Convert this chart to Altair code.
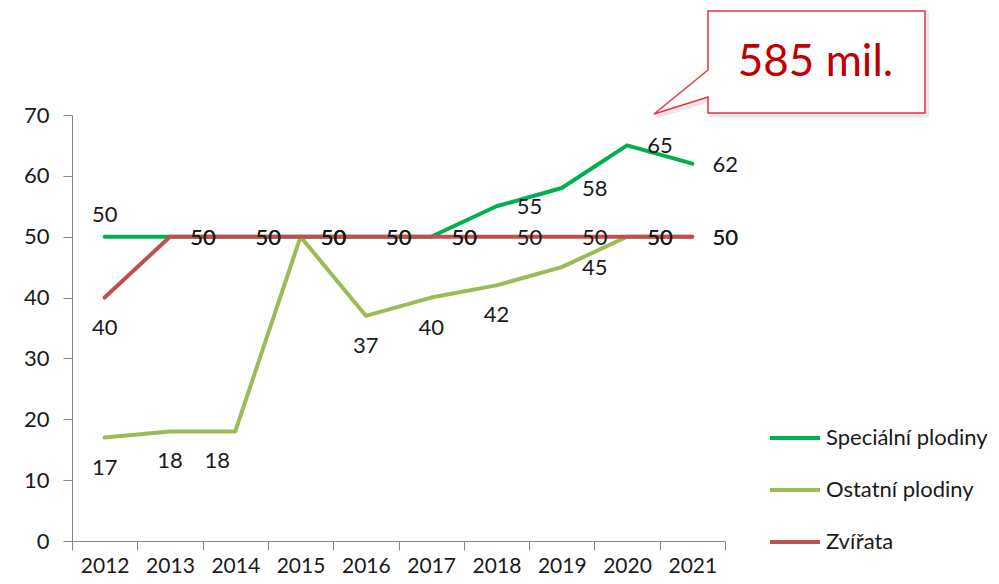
import altair as alt
import pandas as pd

# ---- data ----
YEARS = ["2012", "2013", "2014", "2015", "2016", "2017", "2018", "2019", "2020", "2021"]
SERIES = ["Speciální plodiny", "Ostatní plodiny", "Zvířata"]
SPECIALNI = [50, 50, 50, 50, 50, 50, 55, 58, 65, 62]
OSTATNI = [17, 18, 18, 50, 37, 40, 42, 45, 50, 50]
ZVIRATA = [40, 50, 50, 50, 50, 50, 50, 50, 50, 50]
Y_TICKS = [0, 10, 20, 30, 40, 50, 60, 70]
CALLOUT_TEXT = "585 mil."

COLORS = ["#00B050", "#9BBB59", "#C0504D"]
FONT = "Lato"
TEXT_COLOR = "#1a1a1a"
AXIS_COLOR = "#868686"

# label placement (style, not data)
LABEL_ABOVE = {("Speciální plodiny", "2012")}
LABEL_BELOW = {("Ostatní plodiny", y) for y in ["2012", "2013", "2016", "2017", "2018"]} | {("Zvířata", "2012")}
LABEL_BELOW_LEFT = {("Ostatní plodiny", "2014")}

rows = []
for s, vals in zip(SERIES, [SPECIALNI, OSTATNI, ZVIRATA]):
    for y, v in zip(YEARS, vals):
        k = (s, y)
        if k in LABEL_ABOVE:
            place = "above"
        elif k in LABEL_BELOW:
            place = "below"
        elif k in LABEL_BELOW_LEFT:
            place = "belowleft"
        else:
            place = "right"
        rows.append({"year": y, "series": s, "value": v, "place": place})
df = pd.DataFrame(rows)

x_enc = alt.X(
    "year:O",
    title=None,
    bandPosition=0.5,
    sort=YEARS,
    scale=alt.Scale(type="band", domain=YEARS, paddingInner=0, paddingOuter=0),
    axis=alt.Axis(
        tickBand="extent", labelAngle=0, tickSize=9, labelPadding=5,
        domainColor=AXIS_COLOR, tickColor=AXIS_COLOR, labelFont=FONT,
        labelFontSize=21, labelColor=TEXT_COLOR, grid=False,
    ),
)
y_enc = alt.Y(
    "value:Q",
    title=None,
    scale=alt.Scale(domain=[0, 70], nice=False, zero=True),
    axis=alt.Axis(
        values=Y_TICKS, tickSize=9, labelPadding=14, domainColor=AXIS_COLOR,
        tickColor=AXIS_COLOR, labelFont=FONT, labelFontSize=22,
        labelColor=TEXT_COLOR, grid=False,
    ),
)
color_enc = alt.Color(
    "series:N",
    scale=alt.Scale(domain=SERIES, range=COLORS),
    legend=alt.Legend(
        title=None, orient="none", legendX=696, legendY=296,
        symbolType="stroke", symbolSize=2500, symbolStrokeWidth=4,
        labelFont=FONT, labelFontSize=22, labelColor=TEXT_COLOR,
        labelOffset=4, rowPadding=14, padding=0, labelLimit=300,
    ),
)

base = alt.Chart(df)
lines = [
    base.transform_filter(alt.datum.series == s)
    .mark_line(strokeWidth=4, strokeCap="round", strokeJoin="round")
    .encode(x=x_enc, y=y_enc, color=color_enc)
    for s in SERIES
]

def labels(place, dx, dy):
    return (
        base.transform_filter(alt.datum.place == place)
        .mark_text(font=FONT, fontSize=22, color=TEXT_COLOR, dx=dx, dy=dy,
                   align="center", baseline="middle")
        .encode(x=x_enc, y=y_enc, text="value:Q")
    )

text_layers = [
    labels("right", 33, 1),
    labels("below", 0, 30),
    labels("belowleft", -18, 30),
    labels("above", 0, -22),
]

# callout balloon (annotation), shape normalised to [-1, 1]
CALLOUT_PATH = (
    "M -0.6015 -0.3801 L 1 -0.3801 L 1 0.3727 L -0.6015 0.3727 "
    "L -0.6015 0.2546 L -1 0.380 L -0.6015 0.0554 Z"
)
ann = alt.Chart(pd.DataFrame({"label": [CALLOUT_TEXT]}))
callout_shadow = ann.mark_point(
    shape=CALLOUT_PATH, size=73441, filled=True, fill="#d9d9d9",
    stroke="#d9d9d9", strokeWidth=3, opacity=0.6,
).encode(x=alt.value(720), y=alt.value(-49.5))
callout = ann.mark_point(
    shape=CALLOUT_PATH, size=73441, filled=True, fill="white",
    stroke="#E8313A", strokeWidth=1.5, opacity=1, fillOpacity=1, strokeOpacity=1,
).encode(x=alt.value(717.5), y=alt.value(-52.5))
callout_text = ann.mark_text(
    font=FONT, fontSize=44, color="#C00000", align="center", baseline="middle",
).encode(x=alt.value(743.5), y=alt.value(-52), text="label:N")

chart = (
    alt.layer(*lines, *text_layers, callout_shadow, callout, callout_text)
    .properties(
        width=653, height=426,
        padding={"left": 64, "top": 107, "right": 266, "bottom": 35},
        autosize=alt.AutoSizeParams(type="none"),
        background="white",
    )
    .configure_view(stroke=None)
)

chart.save("out.html", embed_options={"renderer": "svg", "actions": False})
